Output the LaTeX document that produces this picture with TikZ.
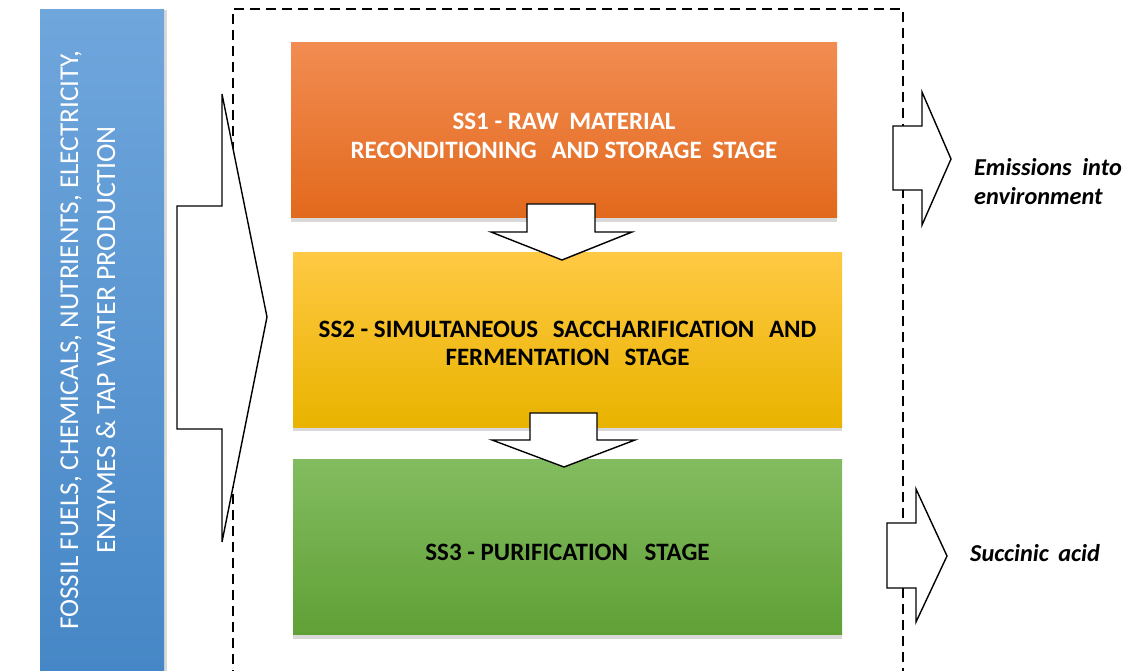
\documentclass[tikz,border=0pt]{standalone}
\usepackage{fontspec}
\setmainfont{Carlito}
\usetikzlibrary{shadows}
\definecolor{barlight}{HTML}{6FA6DC}
\definecolor{bardark}{HTML}{4586C6}
\definecolor{orangelight}{HTML}{F28C52}
\definecolor{orangemid}{HTML}{F37B2C}
\definecolor{orangedark}{HTML}{E2691C}
\definecolor{yellowlight}{HTML}{FFC944}
\definecolor{yellowmid}{HTML}{FFC000}
\definecolor{yellowdark}{HTML}{E9B300}
\definecolor{greenlight}{HTML}{83BC60}
\definecolor{greenmid}{HTML}{70AD47}
\definecolor{greendark}{HTML}{60A036}
\tikzstyle{stagebox}=[
        rectangle,
        inner sep=0pt,
        align=center,
        minimum width=549pt,
        minimum height=175pt,
        font=\fontsize{25}{28.5}\selectfont\bfseries,
        drop shadow={shadow xshift=0pt, shadow yshift=-4pt, opacity=0.3}
]
\tikzstyle{blockarrow}=[
        draw=black,
        fill=white,
        line width=1.4pt,
        line join=miter
]
\tikzstyle{outlabel}=[
        anchor=west,
        align=left,
        inner sep=0pt,
        font=\fontsize{24.3}{29}\selectfont\bfseries\itshape
]

\begin{document}
\begin{tikzpicture}[x=1pt,y=-1pt]
                        \useasboundingbox (0,0) rectangle (1135,671);

                        % input bar
                        \node[rectangle, minimum width=124pt, minimum height=680pt, inner sep=0pt,
                              top color=barlight, bottom color=bardark,
                              drop shadow={shadow xshift=3pt, shadow yshift=0pt, opacity=0.3}]
                              (fuel) at (102,350) {};
                        \node[rotate=90, text=white, align=center, inner sep=0pt,
                              font=\fontsize{27.2}{37}\selectfont] (fueltext) at (88,340)
                              {FOSSIL FUELS, CHEMICALS, NUTRIENTS, ELECTRICITY,\\
                               {\fontsize{27.8}{37}\selectfont ENZYMES \& TAP WATER PRODUCTION}};

                        % system boundary
                        \draw[line width=1.2pt, dash pattern=on 10pt off 6pt] (233,680) -- (233,9) -- (903,9) -- (903,680);

                        % stages
                        \node[stagebox, text=white, minimum width=546pt,
                              top color=orangelight, middle color=orangemid, bottom color=orangedark]
                              (ss1) at (564,130.5)
                              {\rule{0pt}{27pt}SS1 - RAW\hspace{5pt} MATERIAL\\RECONDITIONING\hspace{9pt} AND STORAGE\hspace{5pt} STAGE};
                        \node[stagebox, top color=yellowlight, middle color=yellowmid, bottom color=yellowdark]
                              (ss2) at (567.5,339.5)
                              {\rule{0pt}{24pt}SS2 - SIMULTANEOUS\hspace{9pt} SACCHARIFICATION\hspace{9pt} AND\\FERMENTATION\hspace{9pt} STAGE};
                        \node[stagebox, top color=greenlight, middle color=greenmid, bottom color=greendark]
                              (ss3) at (567.5,547)
                              {\rule{0pt}{28pt}SS3 - PURIFICATION\hspace{11pt} STAGE};

                        % block arrows
                        \draw[blockarrow] (177,206) -- (222,206) -- (222,94) -- (267,317) -- (222,542) -- (222,429) -- (177,429) -- cycle;
                        \draw[blockarrow] (527,204) -- (595,204) -- (595,232) -- (632,232) -- (562,260) -- (491,232) -- (527,232) -- cycle;
                        \draw[blockarrow] (530,413) -- (597,413) -- (597,440) -- (635,440) -- (564,467) -- (492,440) -- (530,440) -- cycle;
                        \draw[blockarrow] (893,126) -- (922,126) -- (922,92) -- (951,159) -- (922,225) -- (922,190) -- (893,190) -- cycle;
                        \draw[blockarrow] (887,523) -- (916,523) -- (916,489) -- (947,556) -- (916,622) -- (916,588) -- (887,588) -- cycle;

                        % outputs
                        \node[outlabel] (emis) at (974,182) {Emissions\hspace{5pt} into\\environment};
                        \node[outlabel] (succ) at (970,553) {Succinic\hspace{4pt} acid};
\end{tikzpicture}
\end{document}
